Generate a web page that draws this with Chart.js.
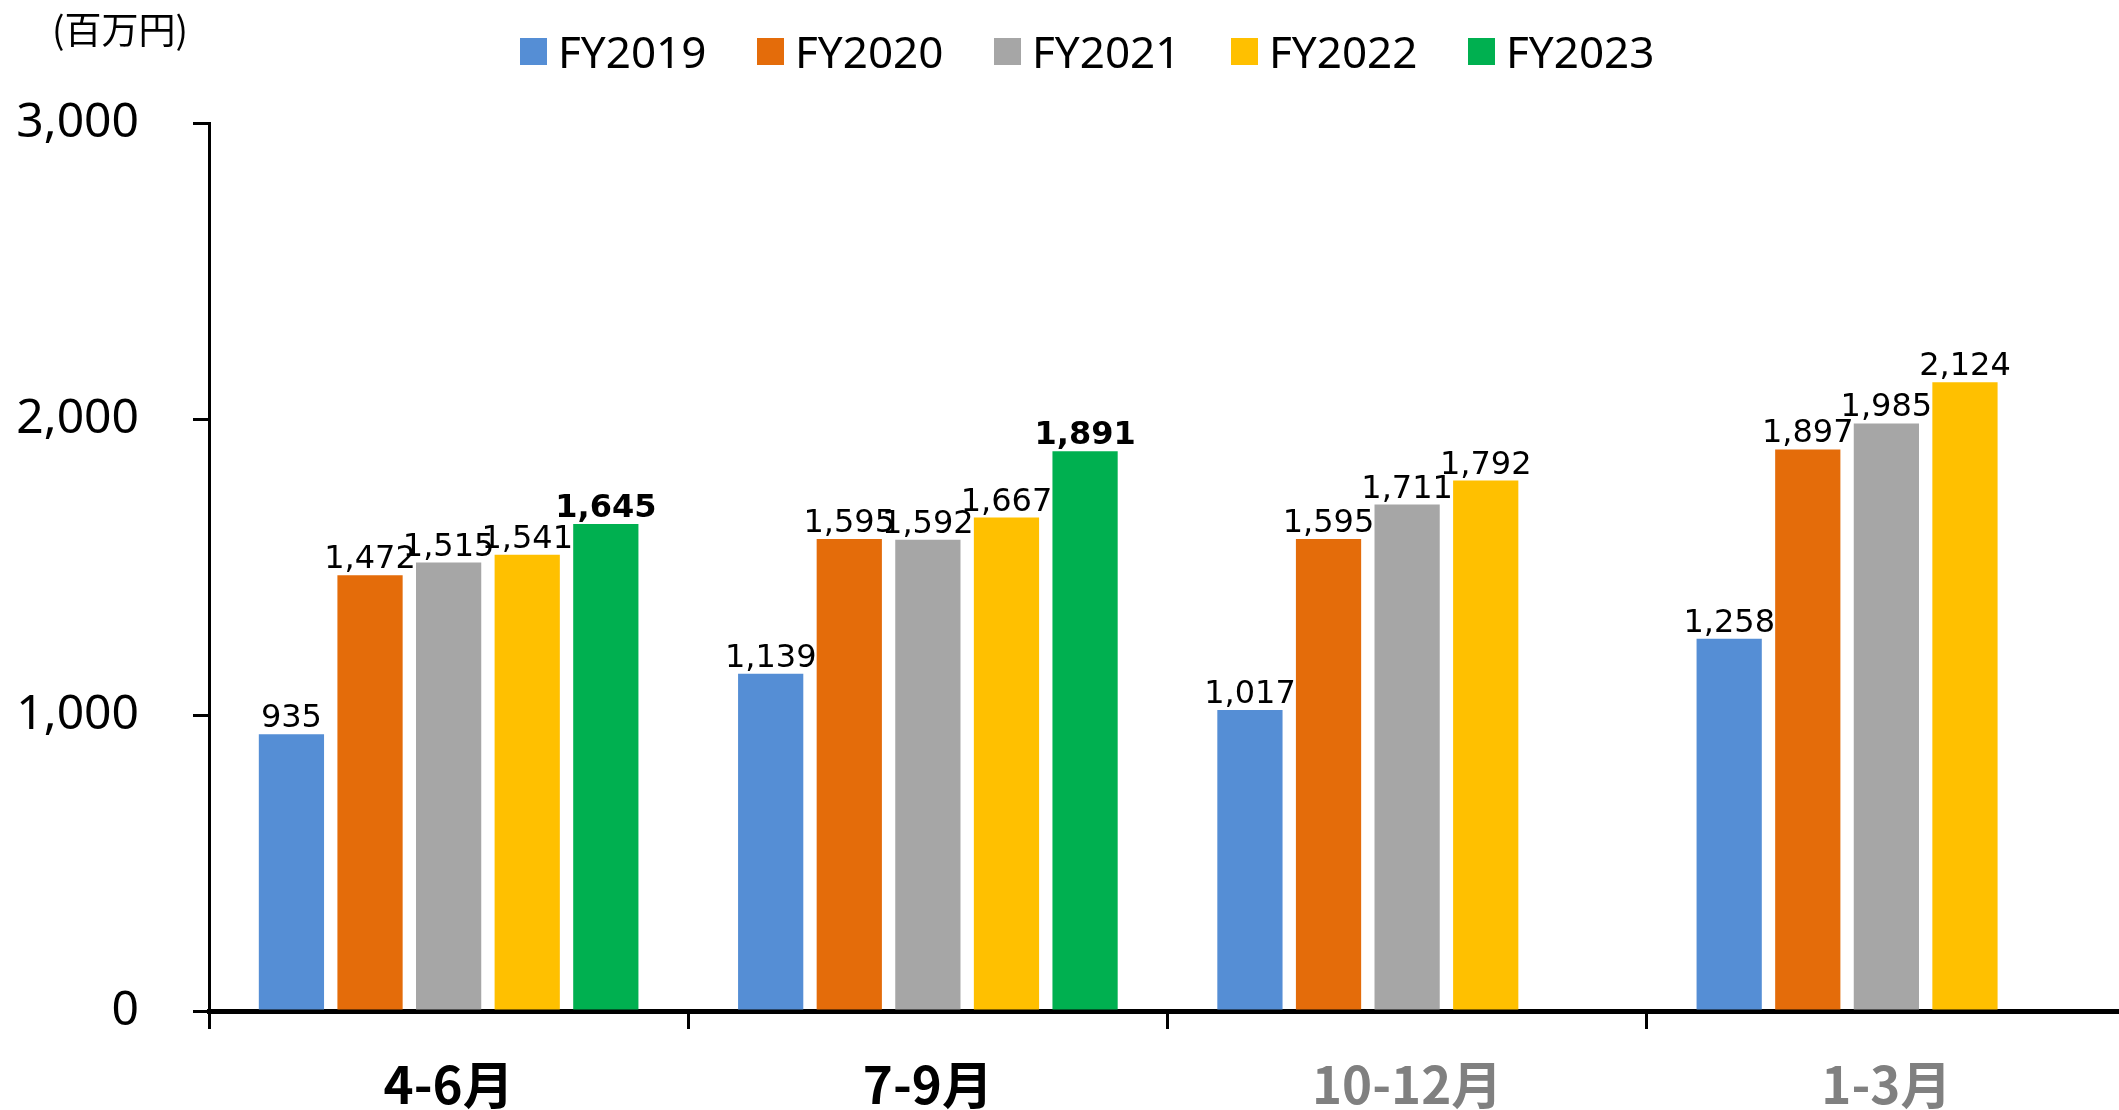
<!DOCTYPE html>
<html>
<head>
<meta charset="utf-8">
<script src="https://cdn.jsdelivr.net/npm/chart.js@4.4.1/dist/chart.umd.min.js"></script>
<style>
  html, body { margin: 0; padding: 0; background: #fff; overflow: hidden; }
  #wrap { position: relative; width: 2119px; height: 1110px; overflow: hidden; }
  #unit { position: absolute; left: 52px; top: 5px; font: 37px "Noto Sans CJK JP"; color: #000; line-height: 46px; }
  #legend { position: absolute; left: 520px; top: 21px; display: flex; }
  .item { display: flex; align-items: center; width: 237px; height: 60px; font: 44px "Noto Sans"; color: #000; }
  .box { width: 27px; height: 27px; margin-right: 11px; flex: none; }
</style>
</head>
<body>
<div id="wrap">
  <!-- the axis runs slightly past the right edge in the original, so the canvas is a bit wider than the frame -->
  <canvas id="chart" width="2130" height="1110"></canvas>
  <div id="unit">(百万円)</div>
  <div id="legend"></div>
</div>
<script>
// categories and series
const quarters = ['4-6月', '7-9月', '10-12月', '1-3月'];
const quarterColors = ['#000000', '#000000', '#808080', '#808080'];
const seriesNames = ['FY2019', 'FY2020', 'FY2021', 'FY2022', 'FY2023'];
const seriesColors = ['#558ED5', '#E46C0A', '#A6A6A6', '#FFC000', '#00B050'];
const fy2019 = [935, 1139, 1017, 1258];
const fy2020 = [1472, 1595, 1595, 1897];
const fy2021 = [1515, 1592, 1711, 1985];
const fy2022 = [1541, 1667, 1792, 2124];
const fy2023 = [1645, 1891, null, null];
const yTicks = [0, 1000, 2000, 3000];

const seriesValues = [fy2019, fy2020, fy2021, fy2022, fy2023];
const boldSeries = 'FY2023';

// value labels above each bar
const barLabels = {
  id: 'barLabels',
  afterDatasetsDraw(chart) {
    const ctx = chart.ctx;
    ctx.save();
    ctx.fillStyle = '#000';
    ctx.textAlign = 'center';
    ctx.textBaseline = 'alphabetic';
    chart.data.datasets.forEach((ds, i) => {
      const meta = chart.getDatasetMeta(i);
      const bold = ds.label === boldSeries;
      ctx.font = (bold ? 'bold ' : '') + '32px "DejaVu Sans"';
      meta.data.forEach((bar, j) => {
        const v = ds.data[j];
        if (v === null || v === undefined) return;
        ctx.fillText(v.toLocaleString('en-US'), bar.x, bar.y - 7);
      });
    });
    ctx.restore();
  }
};

const datasets = seriesNames.map((name, i) => ({
  label: name,
  data: seriesValues[i],
  backgroundColor: seriesColors[i],
  borderWidth: 0,
  categoryPercentage: 0.82,
  barPercentage: 0.83
}));

// html legend
const legend = document.getElementById('legend');
seriesNames.forEach((name, i) => {
  const item = document.createElement('div');
  item.className = 'item';
  item.innerHTML = `<span class="box" style="background:${seriesColors[i]}"></span><span>${name}</span>`;
  legend.appendChild(item);
});

new Chart(document.getElementById('chart'), {
  type: 'bar',
  data: { labels: quarters, datasets: datasets },
  options: {
    responsive: false,
    animation: false,
    layout: { padding: { top: 123, right: 4, left: 0, bottom: 0 } },
    plugins: {
      legend: { display: false },
      tooltip: { enabled: false }
    },
    scales: {
      x: {
        grid: { drawOnChartArea: false, drawTicks: true, tickLength: 18, color: '#000', lineWidth: 3 },
        border: { display: true, color: '#000', width: 5 },
        ticks: {
          color: ctx => quarterColors[ctx.index],
          font: { family: '"Noto Sans CJK JP"', size: 51, weight: 'bold' },
          padding: 25
        },
        afterFit: scale => { scale.height = 99; }
      },
      y: {
        min: 0,
        max: 3000,
        afterBuildTicks: scale => { scale.ticks = yTicks.map(v => ({ value: v })); },
        grid: { drawOnChartArea: false, drawTicks: true, tickLength: 16, color: '#000', lineWidth: 3 },
        border: { display: true, color: '#000', width: 3 },
        ticks: {
          color: '#000',
          font: { family: '"Noto Sans"', size: 48 },
          padding: 54,
          callback: v => v.toLocaleString('en-US')
        },
        afterFit: scale => { scale.width = 209; }
      }
    }
  },
  plugins: [barLabels]
});
</script>
</body>
</html>
